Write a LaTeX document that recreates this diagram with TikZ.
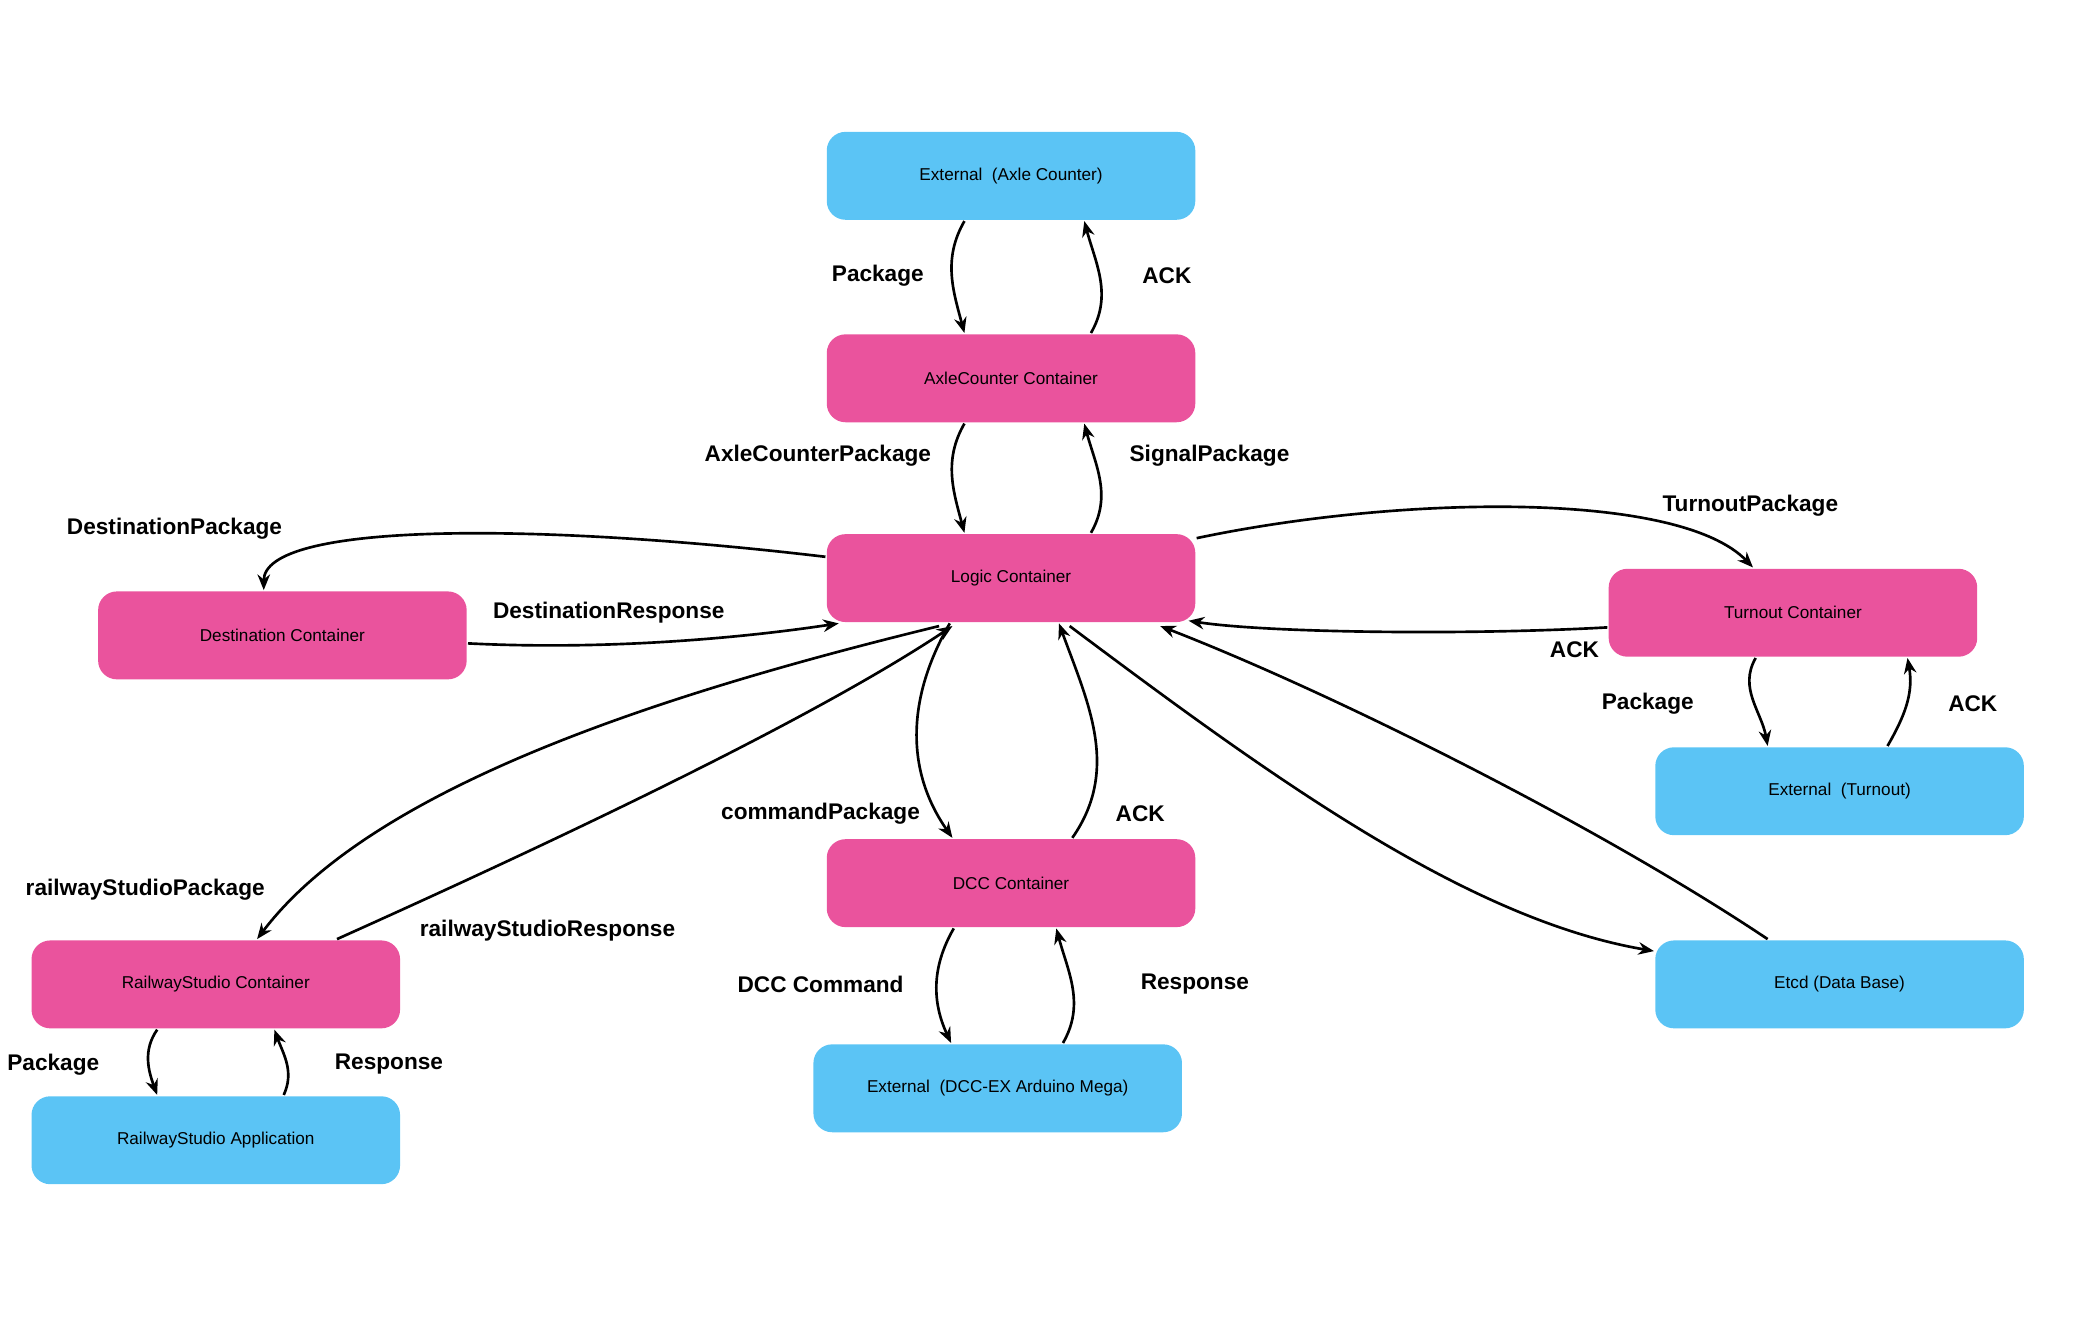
\documentclass[tikz,border=0pt]{standalone}
\usepackage{fontspec}
\setmainfont{Liberation Sans}
\usetikzlibrary{arrows.meta,calc}
\definecolor{extblue}{HTML}{5BC4F5}
\definecolor{contpink}{HTML}{EA539D}
\begin{document}
\begin{tikzpicture}[x=0.03cm,y=-0.03cm,->,>={Stealth[length=10pt,width=8pt]},line width=1.7pt]
\tikzstyle{box}=[rounded corners=12pt,minimum width=8.3cm,minimum height=1.98cm,
  font=\fontsize{11}{13}\selectfont,draw=none,text=black]
\tikzstyle{ext}=[box,fill=extblue]
\tikzstyle{cont}=[box,fill=contpink]
\tikzstyle{lbl}=[font=\fontsize{14.5}{16}\selectfont\bfseries]
\useasboundingbox (0,0) rectangle (1560,988);

\node[ext]  (extaxle)  at (759,132) {External\ \ (Axle Counter)};
\node[cont] (axle)     at (759,284) {AxleCounter Container};
\node[cont] (logic)    at (759,434) {Logic Container};
\node[cont] (dest)     at (212,477) {Destination Container};
\node[cont] (turnout)  at (1346,460) {Turnout Container};
\node[ext]  (extturn)  at (1381,594) {External\ \ (Turnout)};
\node[cont] (dcc)      at (759,663) {DCC Container};
\node[ext]  (extdcc)   at (749,817) {External\ \ (DCC-EX Arduino Mega)};
\node[cont] (rs)       at (162,739) {RailwayStudio Container};
\node[ext]  (rsapp)    at (162,856) {RailwayStudio Application};
\node[ext]  (etcd)     at (1381,739) {Etcd (Data Base)};

% axle counter
\draw ($(extaxle.south)+(-35,0)$) to[out=240,in=105] ($(axle.north)+(-35,0)$);
\draw ($(axle.north)+(60,0)$) to[out=60,in=-75] ($(extaxle.south)+(55,0)$);
\node[lbl] (l1) at (659,207) {Package};
\node[lbl] (l2) at (876,207) {ACK};
\draw ($(axle.south)+(-35,0)$) to[out=240,in=105] ($(logic.north)+(-35,0)$);
\draw ($(logic.north)+(60,0)$) to[out=60,in=-75] ($(axle.south)+(55,0)$);
\node[lbl] (l3) at (614,342) {AxleCounterPackage};
\node[lbl] (l4) at (908,342) {SignalPackage};

% destination
\draw ($(logic.west)+(0,-16)$) .. controls (400,392) and (198,392) .. ($(dest.north)+(-14,0)$);
\draw ($(dest.east)+(0,6)$) .. controls (450,488) and (550,480) .. ($(logic.south west)+(10,0)$);
\node[lbl] (l5) at (131,397) {DestinationPackage};
\node[lbl] (l6) at (457,460) {DestinationResponse};

% turnout
\draw ($(logic.north east)+(0,4)$) .. controls (1050,372) and (1260,368) .. ($(turnout.north)+(-30,0)$);
\draw ($(turnout.west)+(0,11)$) .. controls (1100,477) and (950,475) .. ($(logic.east)+(-6,32)$);
\node[lbl] (l7) at (1314,380) {TurnoutPackage};
\node[lbl] (l8) at (1182,488) {ACK};
\draw ($(turnout.south)+(-28,0)$) to[out=240,in=100] ($(extturn.north)+(-54,0)$);
\draw ($(extturn.north)+(36,0)$) to[out=60,in=-80] ($(turnout.south)+(86,0)$);
\node[lbl] (l9) at (1237,528) {Package};
\node[lbl] (l10) at (1481,528) {ACK};

% dcc
\draw ($(logic.south)+(-46,0)$) to[out=240,in=125] ($(dcc.north)+(-44,0)$);
\draw ($(dcc.north)+(46,0)$) to[out=55,in=-70] ($(logic.south)+(36,0)$);
\node[lbl] (l11) at (616,611) {commandPackage};
\node[lbl] (l12) at (856,611) {ACK};
\draw ($(dcc.south)+(-43,0)$) to[out=240,in=115] ($(extdcc.north)+(-35,0)$);
\draw ($(extdcc.north)+(49,0)$) to[out=60,in=-75] ($(dcc.south)+(34,0)$);
\node[lbl] (l13) at (616,739) {DCC Command};
\node[lbl] (l14) at (897,739) {Response};

% railway studio
\draw ($(logic.south)+(-54,2)$) .. controls (500,520) and (280,590) .. ($(rs.north)+(31,0)$);
\draw ($(rs.north)+(91,0)$) .. controls (420,630) and (610,540) .. ($(logic.south)+(-44,2)$);
\node[lbl] (l15) at (109,668) {railwayStudioPackage};
\node[lbl] (l16) at (411,699) {railwayStudioResponse};
\draw ($(rs.south)+(-44,0)$) to[out=235,in=110] ($(rsapp.north)+(-44,0)$);
\draw ($(rsapp.north)+(51,0)$) to[out=65,in=-70] ($(rs.south)+(44,0)$);
\node[lbl] (l17) at (40,799) {Package};
\node[lbl] (l18) at (292,799) {Response};

% etcd
\draw ($(logic.south)+(44,2)$) .. controls (950,580) and (1100,690) .. ($(etcd.west)+(0,-25)$);
\draw ($(etcd.north)+(-54,0)$) .. controls (1200,620) and (1000,520) .. ($(logic.south)+(112,2)$);
\end{tikzpicture}
\end{document}
